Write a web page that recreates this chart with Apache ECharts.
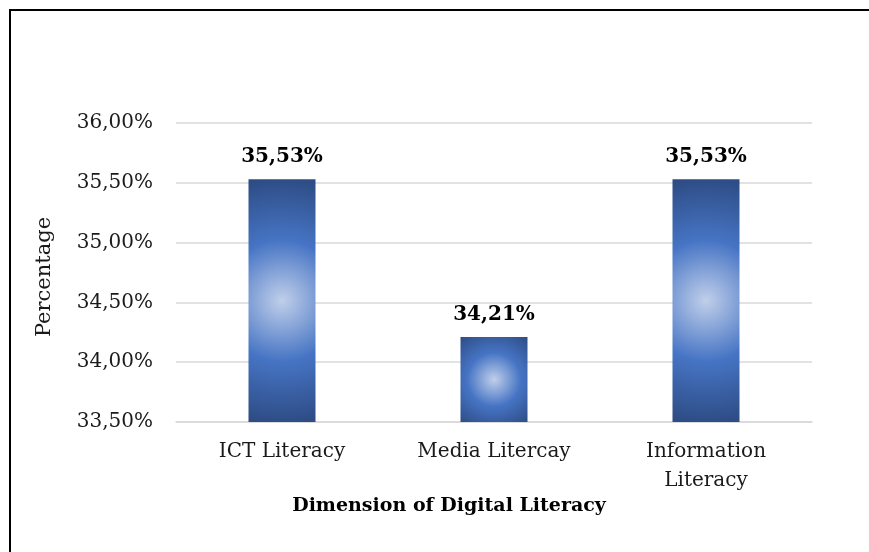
<!DOCTYPE html>
<html>
<head>
<meta charset="utf-8">
<script src="https://cdn.jsdelivr.net/npm/echarts@6/dist/echarts.min.js"></script>
<style>
html,body{margin:0;padding:0;background:#fff;}
#chart{width:869px;height:552px;}
</style>
</head>
<body>
<div id="chart"></div>
<script>
const categories = ['ICT Literacy', 'Media Litercay', 'Information\nLiteracy'];
const values = [35.53, 34.21, 35.53];
const yMin = 33.5, yMax = 36, yStep = 0.5;
const yAxisTitle = 'Percentage';
const xAxisTitle = 'Dimension of Digital Literacy';

const FONT = '"DejaVu Serif", serif';
const fmt = v => v.toFixed(2).replace('.', ',') + '%';

const chart = echarts.init(document.getElementById('chart'));
const plotH = 299, barW = 67;

chart.setOption({
  animation: false,
  backgroundColor: '#ffffff',
  grid: {left: 176, right: 57, top: 123, bottom: 130},
  xAxis: {
    type: 'category',
    data: categories,
    axisLine: {show: true, lineStyle: {color: '#d9d9d9', width: 1.5}},
    axisTick: {show: false},
    axisLabel: {fontFamily: FONT, fontSize: 20, color: '#1a1a1a', margin: 15, lineHeight: 29, interval: 0}
  },
  yAxis: {
    type: 'value',
    min: yMin, max: yMax, interval: yStep,
    axisLine: {show: false},
    axisTick: {show: false},
    splitLine: {lineStyle: {color: '#d9d9d9', width: 1.5}},
    axisLabel: {fontFamily: FONT, fontSize: 20, color: '#1a1a1a', margin: 23, formatter: fmt}
  },
  series: [{
    type: 'bar',
    data: values,
    barWidth: barW,
    itemStyle: {
      color: function (p) {
        const h = (p.value - yMin) / (yMax - yMin) * plotH;
        const r = Math.max(0.8, h / barW / 2);
        return {
          type: 'radial', x: 0.5, y: 0.5, r: r,
          colorStops: [
            {offset: 0, color: '#c0cfea'},
            {offset: 0.5, color: '#4674c4'},
            {offset: 1, color: '#2e4d86'}
          ]
        };
      }
    },
    label: {
      show: true, position: 'top', distance: 12,
      fontFamily: FONT, fontSize: 20, fontWeight: 'bold', color: '#000',
      formatter: p => fmt(p.value)
    }
  }],
  graphic: [
    {type: 'rect', shape: {x: 10, y: 10, width: 900, height: 600},
     style: {fill: 'none', stroke: '#000', lineWidth: 2}, silent: true},
    {type: 'text', x: 45, y: 277, rotation: Math.PI / 2,
     style: {text: yAxisTitle, fontFamily: FONT, fontSize: 21, fill: '#1a1a1a', align: 'center', verticalAlign: 'middle'}},
    {type: 'text', x: 449, y: 506,
     style: {text: xAxisTitle, fontFamily: FONT, fontSize: 19, fontWeight: 'bold', fill: '#000', align: 'center', verticalAlign: 'middle'}}
  ]
});
</script>
</body>
</html>
